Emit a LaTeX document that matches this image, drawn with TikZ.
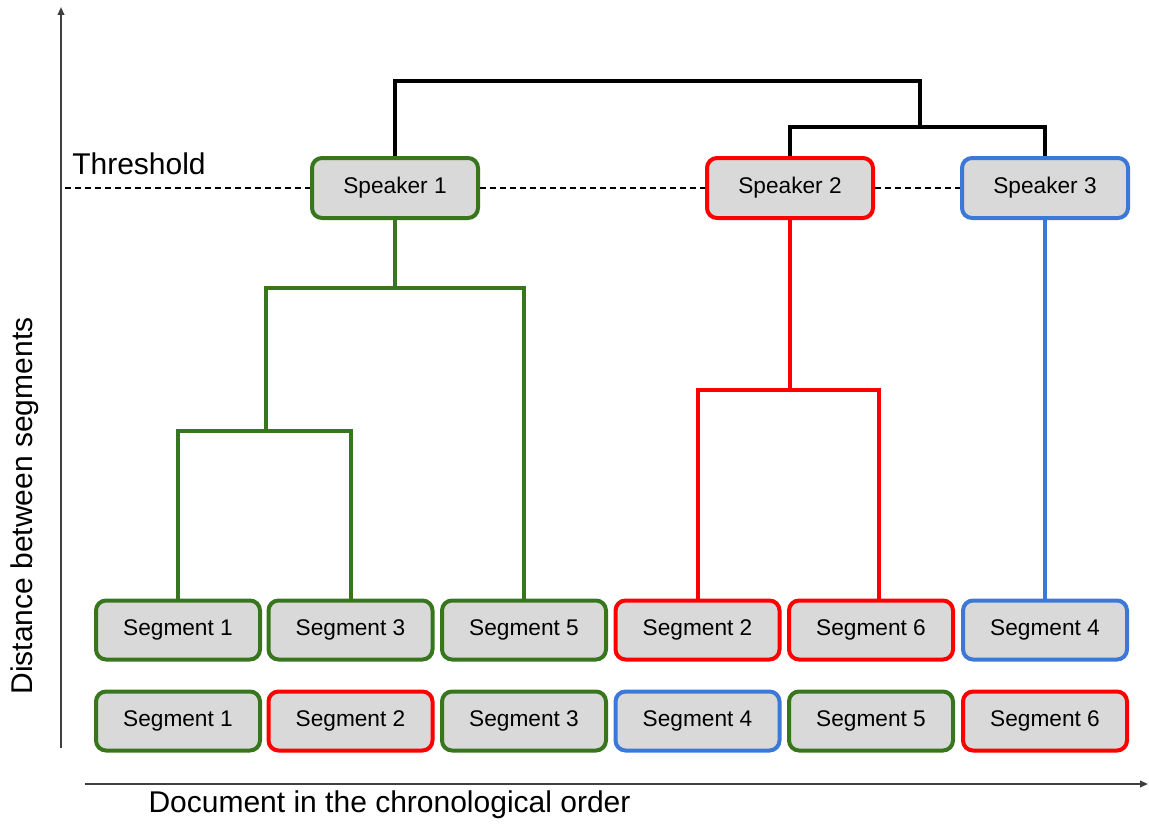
\documentclass[tikz,border=0pt]{standalone}
\usepackage{fontspec}
\setmainfont{Liberation Sans}
\usetikzlibrary{arrows.meta,calc}

\definecolor{spkgreen}{HTML}{38761D}
\definecolor{spkred}{HTML}{FF0000}
\definecolor{spkblue}{HTML}{3C78D8}
\definecolor{boxfill}{HTML}{D9D9D9}
\definecolor{axisgray}{HTML}{404040}

\tikzset{
  seg/.style={draw, fill=boxfill, rounded corners=7.5pt, line width=3pt,
    minimum width=123pt, minimum height=44.25pt, inner sep=0pt,
    font=\fontsize{17}{20}\selectfont},
  spk/.style={seg, minimum width=124.5pt, minimum height=45pt},
  gbox/.style={seg, draw=spkgreen},
  rbox/.style={seg, draw=spkred},
  bbox/.style={seg, draw=spkblue},
  gline/.style={draw=spkgreen, line width=3pt},
  rline/.style={draw=spkred, line width=3pt},
  bline/.style={draw=spkblue, line width=3pt},
  kline/.style={draw=black, line width=2.4pt},
  thrline/.style={draw=black, line width=0.8pt, dash pattern=on 4.5pt off 3pt},
  axis/.style={draw=axisgray, line width=1.3pt, -{Triangle[length=6pt,width=5pt]}},
  biglabel/.style={font=\fontsize{22.5}{26}\selectfont, inner sep=0pt}
}

\begin{document}
\begin{tikzpicture}[x=0.75pt, y=-0.75pt]
\useasboundingbox (0,0) rectangle (1149,824);

% axes
\coordinate (ybot) at (61,748);
\coordinate (ytop) at (61,7);
\coordinate (xleft) at (85,784);
\coordinate (xright) at (1148,784);
\draw[axis] (ybot) -- (ytop);
\draw[axis] (xleft) -- (xright);
\node[biglabel, rotate=90] (ylab) at (25,506) {Distance between segments};
\node[biglabel] (xlab) at (389.5,805) {Document in the chronological order};

% speaker clusters at the threshold
\node[spk, draw=spkgreen] (sp1) at (395,188) {Speaker 1};
\node[spk, draw=spkred] (sp2) at (790,188) {Speaker 2};
\node[spk, draw=spkblue] (sp3) at (1045,188) {Speaker 3};

% threshold line and label
\coordinate (thr) at (65,188);
\draw[thrline] (thr) -- (sp1.west);
\draw[thrline] (sp1.east) -- (sp2.west);
\draw[thrline] (sp2.east) -- (sp3.west);
\node[biglabel, anchor=base west] (thrlab) at (72,174) {Threshold};

% segments grouped by speaker
\node[gbox] (a1) at (178,630) {Segment 1};
\node[gbox] (a3) at (350.5,630) {Segment 3};
\node[gbox] (a5) at (524,630) {Segment 5};
\node[rbox] (a2) at (697.5,630) {Segment 2};
\node[rbox] (a6) at (871,630) {Segment 6};
\node[bbox] (a4) at (1045,630) {Segment 4};

% segments in document order
\node[gbox] (b1) at (178,721) {Segment 1};
\node[rbox] (b2) at (350.5,721) {Segment 2};
\node[gbox] (b3) at (524,721) {Segment 3};
\node[bbox] (b4) at (697.5,721) {Segment 4};
\node[gbox] (b5) at (871,721) {Segment 5};
\node[rbox] (b6) at (1045,721) {Segment 6};

% green dendrogram
\coordinate (g1) at (266,431);
\coordinate (g2) at (395,288);
\draw[gline] (a1.north) |- (g1) -| (a3.north);
\draw[gline] (g1) |- (g2) -| (a5.north);
\draw[gline] (g2) -- (sp1.south);

% red dendrogram
\coordinate (r1) at (790,390);
\coordinate (a6top) at ($(a6.north)+(8,0)$);
\draw[rline] (a2.north) |- (r1) -| (a6top);
\draw[rline] (r1) -- (sp2.south);

% blue branch
\draw[bline] (a4.north) -- (sp3.south);

% merges above the threshold
\coordinate (k1) at (920,127);
\coordinate (k2) at (660,81);
\draw[kline] (sp2.north) |- (k1) -| (sp3.north);
\draw[kline] (sp1.north) |- (k2) -| (k1);
\end{tikzpicture}
\end{document}
